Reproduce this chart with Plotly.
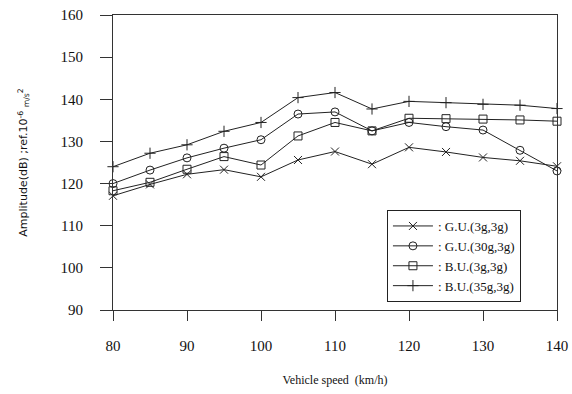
import plotly.graph_objects as go

speed = [80, 85, 90, 95, 100, 105, 110, 115, 120, 125, 130, 135, 140]
gu_3g = [117.1, 119.8, 122.2, 123.3, 121.6, 125.6, 127.6, 124.6, 128.6, 127.5, 126.2, 125.4, 124.1]
gu_30g = [120.0, 123.2, 126.1, 128.4, 130.4, 136.5, 137.0, 132.5, 134.5, 133.5, 132.7, 127.9, 123.0]
bu_3g = [118.3, 120.3, 123.4, 126.4, 124.4, 131.3, 134.5, 132.5, 135.5, 135.4, 135.3, 135.1, 134.8]
bu_35g = [124.0, 127.2, 129.2, 132.4, 134.5, 140.4, 141.6, 137.7, 139.5, 139.2, 138.8, 138.6, 137.8]

names = [": G.U.(3g,3g)", ": G.U.(30g,3g)", ": B.U.(3g,3g)", ": B.U.(35g,3g)"]
symbols = ["x-thin-open", "circle-open", "square-open", "cross-thin-open"]
series = [gu_3g, gu_30g, bu_3g, bu_35g]

fig = go.Figure()
for name, sym, ys in zip(names, symbols, series):
    fig.add_trace(go.Scatter(
        x=speed, y=ys, name=name, mode="lines+markers",
        line=dict(color="#222", width=1),
        marker=dict(symbol=sym, size=8, color="#222", line=dict(color="#222", width=1)),
        cliponaxis=False,
    ))

serif = "Liberation Serif, Times New Roman, serif"
fig.update_layout(
    width=572, height=394,
    margin=dict(l=113, r=15, t=15, b=84, autoexpand=False),
    paper_bgcolor="white", plot_bgcolor="white",
    showlegend=True,
    legend=dict(x=0.617, y=0.339, xanchor="left", yanchor="top",
                bordercolor="#222", borderwidth=1, bgcolor="white",
                font=dict(family=serif, size=13, color="#111"),
                tracegroupgap=0, itemwidth=40),
    xaxis=dict(range=[80, 140], tickvals=[80, 90, 100, 110, 120, 130, 140],
               automargin=False,
               showgrid=False, zeroline=False, showline=True, mirror=True,
               linecolor="#333", linewidth=1, ticks="outside", ticklen=10,
               ticklabelstandoff=12,
               tickcolor="#333", tickfont=dict(family=serif, size=15, color="#111"),
               title=dict(text="Vehicle speed  (km/h)", standoff=22,
                          font=dict(family=serif, size=12, color="#111"))),
    yaxis=dict(range=[90, 160], tickvals=[90, 100, 110, 120, 130, 140, 150, 160],
               automargin=False,
               showgrid=False, zeroline=False, showline=True, mirror=True,
               linecolor="#333", linewidth=1, ticks="outside", ticklen=12,
               ticklabelstandoff=14,
               tickcolor="#333", tickfont=dict(family=serif, size=15, color="#111"),
               title=dict(text="Amplitude(dB) ;ref.10<sup>-6</sup> <sub>m/s</sub><sup>2</sup>",
                          standoff=30,
                          font=dict(family="DejaVu Sans, sans-serif", size=11, color="#111"))),
)

fig.write_html("out.html")
